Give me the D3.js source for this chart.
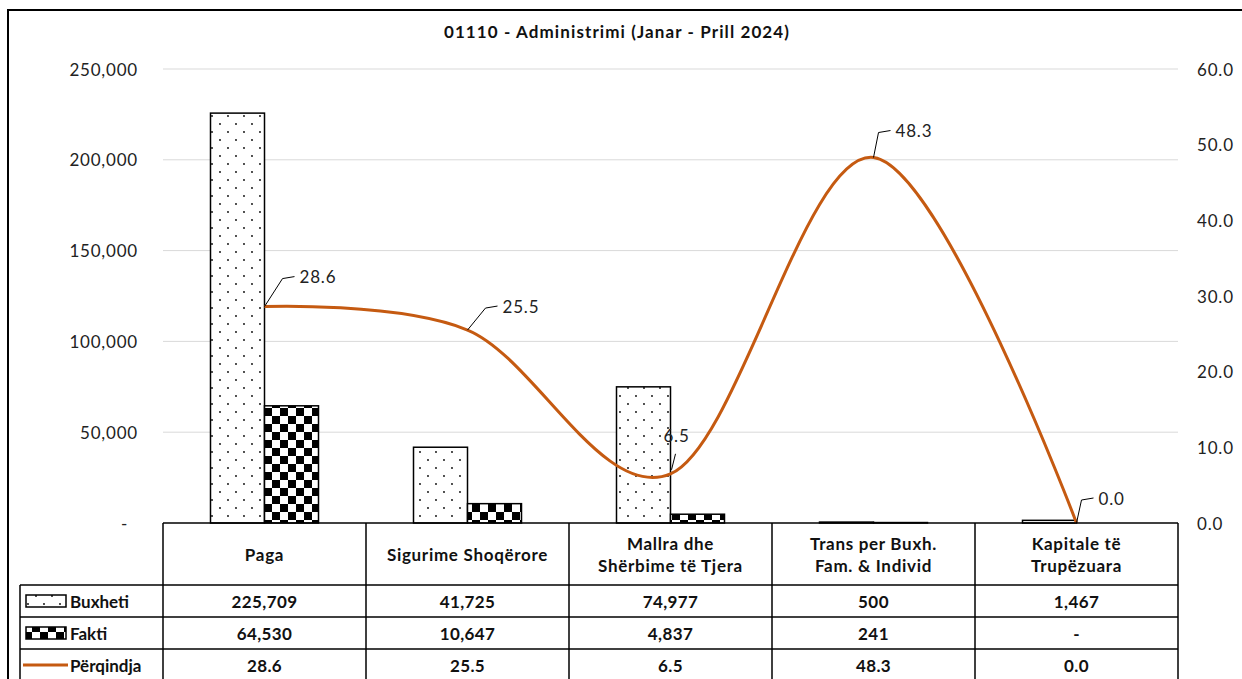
<!DOCTYPE html>
<html>
<head>
<meta charset="utf-8">
<script src="https://cdn.jsdelivr.net/npm/d3@7"></script>
<style>
  body { margin: 0; background: #fff; }
  svg { display: block; font-family: Lato, "Open Sans", sans-serif; }
</style>
</head>
<body>
<svg id="chart"></svg>
<script>
const categories = ["Paga", "Sigurime Shoqërore", "Mallra dhe\nShërbime të Tjera", "Trans per Buxh.\nFam. & Individ", "Kapitale të\nTrupëzuara"];
const buxheti = [225709, 41725, 74977, 500, 1467];
const fakti = [64530, 10647, 4837, 241, 0];
const perqindja = [28.6, 25.5, 6.5, 48.3, 0.0];
const leftTicks = [0, 50000, 100000, 150000, 200000, 250000];
const rightTicks = [0, 10, 20, 30, 40, 50, 60];
const seriesNames = ["Buxheti", "Fakti", "Përqindja"];

const width = 1242, height = 679;
const x0 = 163, x1 = 1178, yBase = 523, yTop = 69;
const orange = "#c55a11";

const svg = d3.select("#chart").attr("width", width).attr("height", height);

// patterns
const defs = svg.append("defs");
const dots = defs.append("pattern").attr("id", "dots")
  .attr("patternUnits", "userSpaceOnUse").attr("width", 16).attr("height", 16);
dots.append("rect").attr("width", 16).attr("height", 16).attr("fill", "#fff");
dots.append("circle").attr("cx", 4).attr("cy", 4).attr("r", 0.9).attr("fill", "#000");
dots.append("circle").attr("cx", 12).attr("cy", 12).attr("r", 0.9).attr("fill", "#000");

const checks = defs.append("pattern").attr("id", "checks")
  .attr("patternUnits", "userSpaceOnUse").attr("width", 16).attr("height", 16);
checks.append("rect").attr("width", 16).attr("height", 16).attr("fill", "#fff");
checks.append("rect").attr("width", 8).attr("height", 8).attr("fill", "#000");
checks.append("rect").attr("x", 8).attr("y", 8).attr("width", 8).attr("height", 8).attr("fill", "#000");

const x = d3.scaleBand().domain(d3.range(categories.length)).range([x0, x1]).paddingInner(0).paddingOuter(0);
const yL = d3.scaleLinear().domain([0, 250000]).range([yBase, yTop]);
const yR = d3.scaleLinear().domain([0, 60]).range([yBase, yTop]);
const barW = 54;

// outer frame
svg.append("rect").attr("x", 8).attr("y", 10).attr("width", 1260).attr("height", 700)
  .attr("fill", "none").attr("stroke", "#000").attr("stroke-width", 2);

// title
svg.append("text").attr("x", 617).attr("y", 31).attr("text-anchor", "middle")
  .attr("dominant-baseline", "central").attr("font-size", 17).attr("font-weight", "bold")
  .attr("letter-spacing", 1.1).attr("fill", "#111")
  .text("01110 - Administrimi (Janar - Prill 2024)");

// gridlines
svg.append("g").selectAll("line").data(leftTicks.filter(d => d > 0)).join("line")
  .attr("x1", x0).attr("x2", x1).attr("y1", d => yL(d)).attr("y2", d => yL(d))
  .attr("stroke", "#d9d9d9").attr("stroke-width", 1);

// left axis labels
const fmt = d3.format(",");
svg.append("g").selectAll("text").data(leftTicks).join("text")
  .attr("x", d => d === 0 ? 128 : 138).attr("y", d => yL(d))
  .attr("text-anchor", "end").attr("dominant-baseline", "central")
  .attr("font-size", 17).attr("letter-spacing", 0.8).attr("fill", "#222")
  .text(d => d === 0 ? "-" : fmt(d));

// right axis labels
svg.append("g").selectAll("text").data(rightTicks).join("text")
  .attr("x", 1197).attr("y", d => yR(d))
  .attr("text-anchor", "start").attr("dominant-baseline", "central")
  .attr("font-size", 17).attr("letter-spacing", 0.8).attr("fill", "#222")
  .text(d => d3.format(".1f")(d));

// bars
const bars = svg.append("g");
bars.selectAll(".b").data(buxheti).join("rect").attr("class", "b")
  .attr("x", (d, i) => x(i) + x.bandwidth() / 2 - barW)
  .attr("y", d => yL(d)).attr("width", barW).attr("height", d => yBase - yL(d))
  .attr("fill", "url(#dots)").attr("stroke", "#000").attr("stroke-width", 1.5);
bars.selectAll(".f").data(fakti).join("rect").attr("class", "f")
  .attr("x", (d, i) => x(i) + x.bandwidth() / 2)
  .attr("y", d => yL(d)).attr("width", barW).attr("height", d => yBase - yL(d))
  .attr("fill", "url(#checks)").attr("stroke", "#000").attr("stroke-width", 1.5);

// line
const pts = perqindja.map((v, i) => [x(i) + x.bandwidth() / 2, yR(v)]);
svg.append("path").datum(pts)
  .attr("d", d3.line().curve(d3.curveCardinal.tension(0)))
  .attr("fill", "none").attr("stroke", orange).attr("stroke-width", 3);

// data labels with leader lines
const labelOff = [[20, -30], [20, -24], [5, -38], [7, -27], [7, -25]];
const lbl = svg.append("g");
perqindja.forEach((v, i) => {
  const [px, py] = pts[i];
  const [dx, dy] = labelOff[i];
  if (i === 2) {
    lbl.append("line").attr("x1", px + 1).attr("y1", py - 4).attr("x2", px + 5).attr("y2", py - 20)
      .attr("stroke", "#000").attr("stroke-width", 1);
    lbl.append("text").attr("x", px + 6).attr("y", py + dy).attr("text-anchor", "middle")
      .attr("dominant-baseline", "central").attr("font-size", 17).attr("letter-spacing", 0.8)
      .attr("fill", "#222").text(v.toFixed(1));
    return;
  }
  lbl.append("path")
    .attr("d", `M${px},${py}L${px + dx - 2},${py + dy + 2}L${px + dx + 10},${py + dy}`)
    .attr("fill", "none").attr("stroke", "#000").attr("stroke-width", 1);
  lbl.append("text").attr("x", px + dx + 15).attr("y", py + dy)
    .attr("dominant-baseline", "central").attr("font-size", 17).attr("letter-spacing", 0.8)
    .attr("fill", "#222").text(v.toFixed(1));
});

// data table
const rowY = [523, 585, 617, 649, 700];
const rowMid = [601, 633, 665];
const tb = svg.append("g").attr("stroke", "#000").attr("stroke-width", 1.5);
tb.append("line").attr("x1", x0).attr("x2", x1).attr("y1", rowY[0]).attr("y2", rowY[0]);
d3.range(categories.length + 1).forEach(i => {
  const xx = i < categories.length ? x(i) : x1;
  tb.append("line").attr("x1", xx).attr("x2", xx).attr("y1", rowY[0]).attr("y2", rowY[4]);
});
[1, 2, 3].forEach(r => {
  tb.append("line").attr("x1", 20).attr("x2", x1).attr("y1", rowY[r]).attr("y2", rowY[r]);
});
tb.append("line").attr("x1", 20).attr("x2", 20).attr("y1", rowY[1]).attr("y2", rowY[4]);

// header text
const head = svg.append("g").attr("font-size", 17).attr("font-weight", "bold")
  .attr("letter-spacing", 0.7).attr("fill", "#111");
categories.forEach((c, i) => {
  const lines = c.split("\n");
  const cx = x(i) + x.bandwidth() / 2;
  const t = head.append("text").attr("x", cx).attr("text-anchor", "middle").attr("dominant-baseline", "central");
  lines.forEach((ln, j) => {
    t.append("tspan").attr("x", cx)
      .attr("y", 554 + (j - (lines.length - 1) / 2) * 22).text(ln);
  });
});

// table values
const tableRows = [
  buxheti.map(d => d === 0 ? "-" : fmt(d)),
  fakti.map(d => d === 0 ? "-" : fmt(d)),
  perqindja.map(d => d.toFixed(1))
];
const vals = svg.append("g").attr("font-size", 17).attr("font-weight", "bold")
  .attr("letter-spacing", 0.4).attr("fill", "#111");
tableRows.forEach((row, r) => {
  row.forEach((v, i) => {
    vals.append("text").attr("x", x(i) + x.bandwidth() / 2).attr("y", rowMid[r])
      .attr("text-anchor", "middle").attr("dominant-baseline", "central").text(v);
  });
});

// legend keys inside table
const lg = svg.append("g");
lg.append("rect").attr("x", 26).attr("y", rowMid[0] - 6).attr("width", 40).attr("height", 12)
  .attr("fill", "url(#dots)").attr("stroke", "#000").attr("stroke-width", 1.5);
lg.append("rect").attr("x", 26).attr("y", rowMid[1] - 6).attr("width", 40).attr("height", 12)
  .attr("fill", "url(#checks)").attr("stroke", "#000").attr("stroke-width", 1.5);
lg.append("line").attr("x1", 23).attr("x2", 68).attr("y1", rowMid[2]).attr("y2", rowMid[2])
  .attr("stroke", orange).attr("stroke-width", 3);
lg.selectAll("text").data(seriesNames).join("text")
  .attr("x", 70).attr("y", (d, i) => rowMid[i]).attr("dominant-baseline", "central")
  .attr("font-size", 17).attr("font-weight", "bold").attr("fill", "#111")
  .text(d => d);
</script>
</body>
</html>
